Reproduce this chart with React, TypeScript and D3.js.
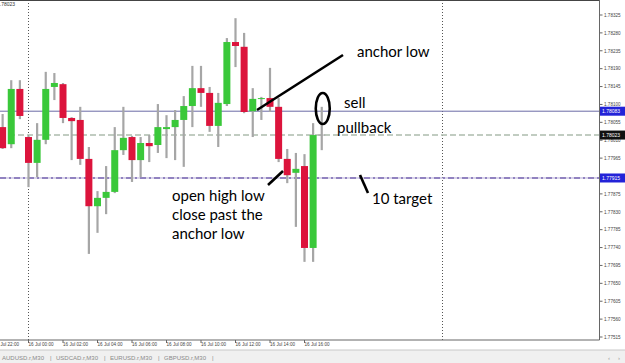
import React from 'react';
import * as d3 from 'd3';

const W = 625;
const H = 363;

// OHLC, 30-minute candles starting 15 Jul 22:30
const opens = [1.78043, 1.78000, 1.78139, 1.78018, 1.77953, 1.78011, 1.78144, 1.78151, 1.78066, 1.78061,
  1.77963, 1.77844, 1.77865, 1.77880, 1.77985, 1.78018, 1.77960, 1.78003, 1.77998, 1.78038,
  1.78043, 1.78061, 1.78096, 1.78141, 1.78129, 1.78046, 1.78101, 1.78257, 1.78245, 1.78083,
  1.78114, 1.78116, 1.78094, 1.77963, 1.77928, 1.77945, 1.77739, 1.78023];
const highs = [1.78076, 1.78161, 1.78161, 1.78021, 1.78053, 1.78182, 1.78179, 1.78154, 1.78068, 1.78094,
  1.77993, 1.77882, 1.77945, 1.78043, 1.78094, 1.78021, 1.78018, 1.78023, 1.78101, 1.78073,
  1.78086, 1.78121, 1.78197, 1.78197, 1.78144, 1.78129, 1.78267, 1.78317, 1.78280, 1.78141,
  1.78119, 1.78192, 1.78116, 1.77988, 1.77978, 1.77975, 1.78053, 1.78094];
const lows = [1.77988, 1.77990, 1.78063, 1.77892, 1.77917, 1.78000, 1.78111, 1.78053, 1.77960, 1.77948,
  1.77724, 1.77777, 1.77824, 1.77877, 1.77973, 1.77905, 1.77917, 1.77955, 1.77978, 1.77965,
  1.77960, 1.77943, 1.78043, 1.78094, 1.78031, 1.77993, 1.78096, 1.78194, 1.78078, 1.78018,
  1.78061, 1.78081, 1.77955, 1.77902, 1.77792, 1.77704, 1.77704, 1.77985];
const closes = [1.77990, 1.78139, 1.78071, 1.77953, 1.78011, 1.78139, 1.78154, 1.78066, 1.78058, 1.77963,
  1.77844, 1.77865, 1.77880, 1.77985, 1.78016, 1.77960, 1.78003, 1.77995, 1.78043, 1.78043,
  1.78061, 1.78096, 1.78141, 1.78129, 1.78046, 1.78104, 1.78257, 1.78247, 1.78081, 1.78114,
  1.78116, 1.78094, 1.77963, 1.77922, 1.77938, 1.77739, 1.78023, 1.78023];

const yTickValues = [1.78325, 1.78280, 1.78235, 1.78190, 1.78145, 1.78100, 1.78055, 1.78010, 1.77965,
  1.77875, 1.77830, 1.77785, 1.77740, 1.77695, 1.77650, 1.77605, 1.77560, 1.77515];
const xTickIdx = [-1, 3, 7, 11, 15, 19, 23, 27, 31, 35];
const xTickLabels = ['15 Jul 22:00', '16 Jul 00:00', '16 Jul 02:00', '16 Jul 04:00', '16 Jul 06:00',
  '16 Jul 08:00', '16 Jul 10:00', '16 Jul 12:00', '16 Jul 14:00', '16 Jul 16:00'];
const daySeparatorIdx = [3, 51];
const levelLine = 1.78083;
const bidLine = 1.78023;
const targetLine = 1.77915;
const tabs = ['AUDUSD.r,M30', 'USDCAD.r,M30', 'EURUSD.r,M30', 'GBPUSD.r,M30'];

export default function App() {
  const plotR = 599.5;
  const plotB = 340;
  const x = d3.scaleLinear().domain([3, 35]).range([28.5, 304.5]);
  const y = d3.scaleLinear().domain([1.77515, 1.78325]).range([337, 15]);
  const bw = 7;
  const fmt = d3.format('.5f');
  const axisFont = 'Liberation Sans, Arial, sans-serif';
  const annFont = 'Lato, sans-serif';

  const candles = opens.map((o, i) => ({ o, h: highs[i], l: lows[i], c: closes[i], i }));

  const priceTag = (v: number, bg: string) => (
    <g>
      <rect x={600} y={y(v) - 4.5} width={25} height={9} fill={bg} />
      <text x={602} y={y(v) + 2} fontSize={5} fill="#fff" fontFamily={axisFont}>{fmt(v)}</text>
    </g>
  );

  return (
    <svg width={W} height={H} style={{ position: 'absolute', left: 0, top: 0, background: '#fff' }}
      xmlns="http://www.w3.org/2000/svg">
      <rect x={0} y={0} width={W} height={H} fill="#fff" />
      {/* day separators */}
      {daySeparatorIdx.map((d) => (
        <line key={d} x1={x(d)} x2={x(d)} y1={0} y2={plotB} stroke="#555" strokeWidth={1} strokeDasharray="1,2" />
      ))}
      {/* horizontal levels */}
      <line x1={0} x2={plotR} y1={y(levelLine)} y2={y(levelLine)} stroke="#6a6aa6" strokeWidth={1} />
      <line x1={0} x2={plotR} y1={y(bidLine)} y2={y(bidLine)} stroke="#adbcad" strokeWidth={1.6} strokeDasharray="6,3" />
      <line x1={0} x2={plotR} y1={y(targetLine)} y2={y(targetLine)} stroke="#b4aad4" strokeWidth={1} />
      <line x1={0} x2={plotR} y1={y(targetLine)} y2={y(targetLine)} stroke="#9182c0" strokeWidth={1.8} strokeDasharray="6,3,2,3" />
      {/* candles */}
      {candles.map((d) => (
        <line key={'w' + d.i} x1={x(d.i)} x2={x(d.i)} y1={y(d.h)} y2={y(d.l)} stroke="#a6a6a6" strokeWidth={2.2} />
      ))}
      {candles.map((d) => {
        const top = y(Math.max(d.o, d.c));
        const bot = y(Math.min(d.o, d.c));
        if (d.o === d.c) {
          return <line key={'b' + d.i} x1={x(d.i) - bw / 2} x2={x(d.i) + bw / 2} y1={top} y2={top} stroke="#a6a6a6" strokeWidth={1} />;
        }
        return (
          <rect key={'b' + d.i} x={x(d.i) - bw / 2} y={top} width={bw} height={Math.max(1, bot - top)}
            fill={d.c > d.o ? '#3ac83a' : '#dc143c'} />
        );
      })}
      {/* frame */}
      <line x1={0} x2={plotR} y1={0.5} y2={0.5} stroke="#444" strokeWidth={1} />
      <line x1={plotR} x2={plotR} y1={0} y2={plotB} stroke="#666" strokeWidth={1} />
      <line x1={0} x2={plotR} y1={plotB} y2={plotB} stroke="#666" strokeWidth={1} />
      <text x={-3} y={6} fontSize={5} fill="#333" fontFamily={axisFont}>{fmt(bidLine)}</text>
      {/* y axis */}
      {yTickValues.map((v) => (
        <g key={v}>
          <line x1={plotR} x2={plotR + 3} y1={y(v)} y2={y(v)} stroke="#666" strokeWidth={1} />
          <text x={604} y={y(v) + 1.8} fontSize={4.6} fill="#444" fontFamily={axisFont}>{fmt(v)}</text>
        </g>
      ))}
      {priceTag(levelLine, '#2323d8')}
      {priceTag(bidLine, '#111')}
      {priceTag(targetLine, '#2323d8')}
      {/* x axis */}
      {xTickIdx.map((t, k) => (
        <g key={t}>
          <line x1={x(t)} x2={x(t)} y1={plotB} y2={plotB + 3} stroke="#666" strokeWidth={1} />
          <text x={x(t)} y={346} fontSize={4.6} fill="#444" fontFamily={axisFont}>{xTickLabels[k]}</text>
        </g>
      ))}
      {/* tab bar */}
      <rect x={0} y={350} width={W} height={13} fill="#f0f0f0" />
      <line x1={0} x2={W} y1={350} y2={350} stroke="#c8c8c8" strokeWidth={1} />
      {tabs.map((t, k) => (
        <g key={t}>
          <text x={2 + k * 54} y={360} fontSize={6} fill="#8a8a8a" fontFamily={axisFont}>{t}</text>
          <text x={50 + k * 54} y={360} fontSize={6} fill="#8a8a8a" fontFamily={axisFont}>|</text>
        </g>
      ))}
      <text x={608} y={360} fontSize={6} fill="#999" fontFamily={axisFont}>‹</text>
      <text x={618} y={360} fontSize={6} fill="#999" fontFamily={axisFont}>›</text>
      {/* annotations */}
      <line x1={257} y1={110} x2={343} y2={55} stroke="#000" strokeWidth={2.6} />
      <text x={357} y={57} fontSize={15} fill="#000" fontFamily={annFont}>anchor low</text>
      <ellipse cx={x(37) + 1} cy={108.5} rx={7} ry={15.5} fill="none" stroke="#000" strokeWidth={2.6} />
      <text x={344} y={108} fontSize={15} fill="#000" fontFamily={annFont}>sell</text>
      <text x={337} y={133} fontSize={15} fill="#000" fontFamily={annFont}>pullback</text>
      <line x1={268} y1={185} x2={283} y2={171} stroke="#000" strokeWidth={2.6} />
      <text fontSize={15} fill="#000" fontFamily={annFont}>
        <tspan x={172} y={201}>open high low</tspan>
        <tspan x={172} y={220}>close past the</tspan>
        <tspan x={172} y={239}>anchor low</tspan>
      </text>
      <line x1={360} y1={175} x2={368} y2={193} stroke="#000" strokeWidth={2.6} />
      <text x={372} y={204} fontSize={15} fill="#000" fontFamily={annFont}>10 target</text>
    </svg>
  );
}
